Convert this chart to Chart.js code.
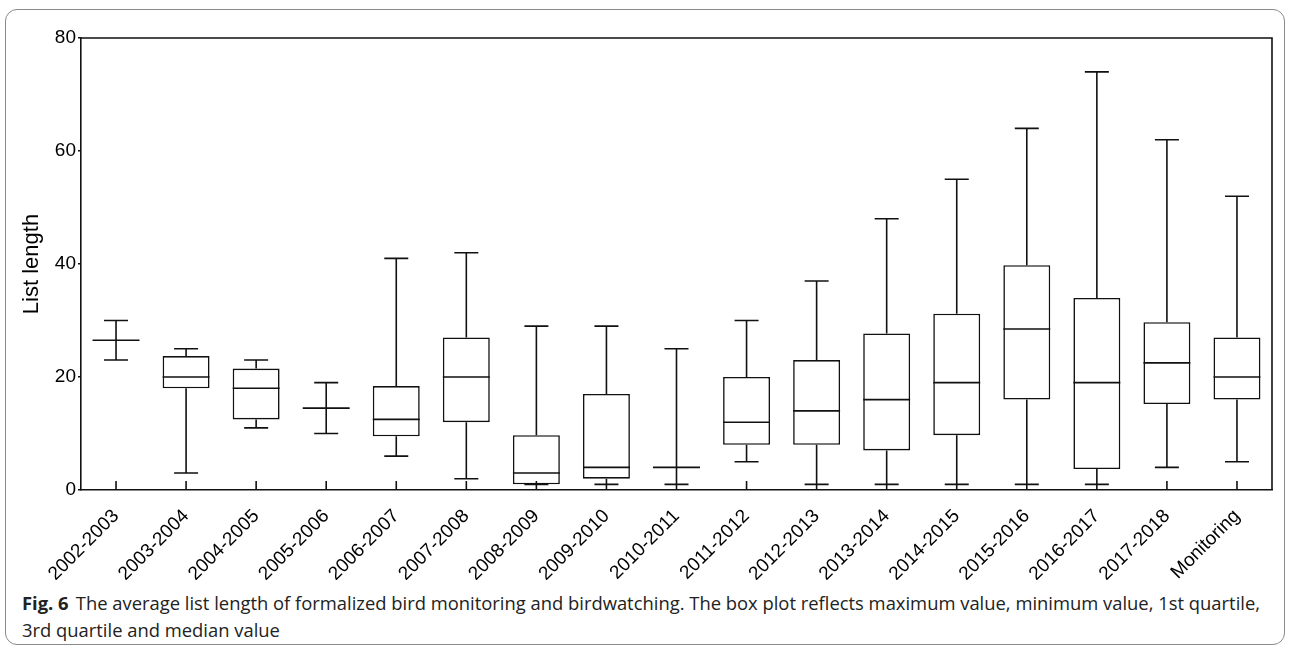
<!DOCTYPE html>
<html>
<head>
<meta charset="utf-8">
<script src="https://cdn.jsdelivr.net/npm/chart.js@4.4.1/dist/chart.umd.min.js"></script>
<style>
    body { margin: 0; background: #fff; }
    #wrap { position: relative; width: 1290px; height: 650px; overflow: hidden; }
    #frame {
        position: absolute; left: 5px; top: 9px; width: 1280px; height: 636px;
        border: 1.5px solid #8a8a8a; border-radius: 12px; box-sizing: border-box;
    }
    #chartBox { position: absolute; left: 0; top: 0; width: 1290px; height: 580px; }
    #caption {
        position: absolute; left: 22px; top: 590px; white-space: nowrap;
        font-family: "Open Sans", "Noto Sans", sans-serif; font-size: 18px; line-height: 27px;
        color: #222; transform-origin: 0 0;
    }
    #caption b { font-weight: 700; margin-right: 7px; }
</style>
</head>
<body>
<div id="wrap">
    <div id="frame"></div>
    <div id="chartBox"><canvas id="boxChart" width="1290" height="580"></canvas></div>
    <div id="caption"><span id="line1"><b>Fig. 6</b>The average list length of formalized bird monitoring and birdwatching. The box plot reflects maximum value, minimum value, 1st quartile,</span><br><span>3rd quartile and median value</span></div>
</div>
<script>
// categories and box plot values
const categories = ["2002-2003", "2003-2004", "2004-2005", "2005-2006", "2006-2007", "2007-2008",
    "2008-2009", "2009-2010", "2010-2011", "2011-2012", "2012-2013", "2013-2014",
    "2014-2015", "2015-2016", "2016-2017", "2017-2018", "Monitoring"];
const maxVals    = [30, 25, 23, 19, 41, 42, 29, 29, 25, 30, 37, 48, 55, 64, 74, 62, 52];
const q3Vals     = [26.5, 23.7, 21.5, 14.5, 18.4, 27, 9.7, 17, 4, 20, 23, 27.7, 31.2, 39.8, 34, 29.7, 27];
const medianVals = [26.5, 20, 18, 14.5, 12.5, 20, 3, 4, 4, 12, 14, 16, 19, 28.5, 19, 22.5, 20];
const q1Vals     = [26.5, 18, 12.5, 14.5, 9.5, 12, 1, 2, 4, 8, 8, 7, 9.7, 16, 3.7, 15.2, 16];
const minVals    = [23, 3, 11, 10, 6, 2, 1, 1, 1, 5, 1, 1, 1, 1, 1, 4, 5];
const yTicks = [0, 20, 40, 60, 80];

const INK = "#111";
const LW = 1.6;

// whiskers, caps, medians, inward x ticks and the top/right frame
const boxPlotPlugin = {
    id: "boxPlot",
    afterDatasetsDraw(chart) {
        const ctx = chart.ctx;
        const xs = chart.scales.x;
        const ys = chart.scales.y;
        const meta = chart.getDatasetMeta(0);
        const area = chart.chartArea;
        ctx.save();
        ctx.strokeStyle = INK;
        ctx.lineWidth = LW;
        ctx.lineCap = "butt";
        categories.forEach(function (c, i) {
            const x = xs.getPixelForValue(i);
            const half = meta.data[i].width / 2;
            const cap = 12;
            const yMax = ys.getPixelForValue(maxVals[i]);
            const yQ3 = ys.getPixelForValue(q3Vals[i]);
            const yMed = ys.getPixelForValue(medianVals[i]);
            const yQ1 = ys.getPixelForValue(q1Vals[i]);
            const yMin = ys.getPixelForValue(minVals[i]);
            ctx.beginPath();
            ctx.moveTo(x, yMax); ctx.lineTo(x, yQ3);
            ctx.moveTo(x, yQ1); ctx.lineTo(x, yMin);
            ctx.moveTo(x - cap, yMax); ctx.lineTo(x + cap, yMax);
            ctx.moveTo(x - cap, yMin); ctx.lineTo(x + cap, yMin);
            ctx.moveTo(x - half, yMed); ctx.lineTo(x + half, yMed);
            // tick mark pointing into the plot
            ctx.moveTo(x, area.bottom); ctx.lineTo(x, area.bottom - 9);
            ctx.stroke();
        });
        ctx.beginPath();
        ctx.moveTo(area.left, area.top); ctx.lineTo(area.right, area.top); ctx.lineTo(area.right, area.bottom);
        ctx.stroke();
        ctx.restore();
    }
};

const ctx = document.getElementById("boxChart").getContext("2d");
const boxChart = new Chart(ctx, {
    type: "bar",
    data: {
        labels: categories,
        datasets: [{
            label: "Interquartile range",
            data: categories.map((c, i) => [q1Vals[i], q3Vals[i]]),
            backgroundColor: "#fff",
            borderColor: INK,
            borderWidth: LW,
            borderSkipped: false,
            barPercentage: 0.67,
            categoryPercentage: 1.0
        }]
    },
    options: {
        responsive: false,
        animation: false,
        layout: { padding: { top: 38, right: 18, left: 0, bottom: 0 } },
        plugins: {
            legend: { display: false },
            tooltip: { enabled: false }
        },
        scales: {
            x: {
                grid: { display: false, drawTicks: false },
                border: { display: true, color: INK, width: LW },
                ticks: {
                    color: "#000",
                    font: { family: "Liberation Sans, Arial, sans-serif", size: 19 },
                    minRotation: 45,
                    maxRotation: 45,
                    padding: 15,
                    autoSkip: false
                },
                afterFit: function (scale) { scale.height = 90; }
            },
            y: {
                min: 0,
                max: 80,
                afterBuildTicks: function (scale) { scale.ticks = yTicks.map(v => ({ value: v })); },
                grid: { display: true, drawOnChartArea: false, drawTicks: true, tickLength: 3, color: INK, lineWidth: LW },
                border: { display: true, color: INK, width: LW },
                ticks: {
                    color: "#000",
                    font: { family: "Liberation Sans, Arial, sans-serif", size: 19 },
                    padding: 2
                },
                title: {
                    display: true,
                    text: "List length",
                    color: "#000",
                    font: { family: "Liberation Sans, Arial, sans-serif", size: 22 },
                    padding: { top: 19, bottom: 0 }
                },
                afterFit: function (scale) { scale.width = 81; }
            }
        }
    },
    plugins: [boxPlotPlugin]
});

// squeeze the caption to the condensed width of the original
const cap = document.getElementById("caption");
const w = document.getElementById("line1").getBoundingClientRect().width;
cap.style.transform = "scaleX(" + (1238 / w) + ")";
</script>
</body>
</html>
